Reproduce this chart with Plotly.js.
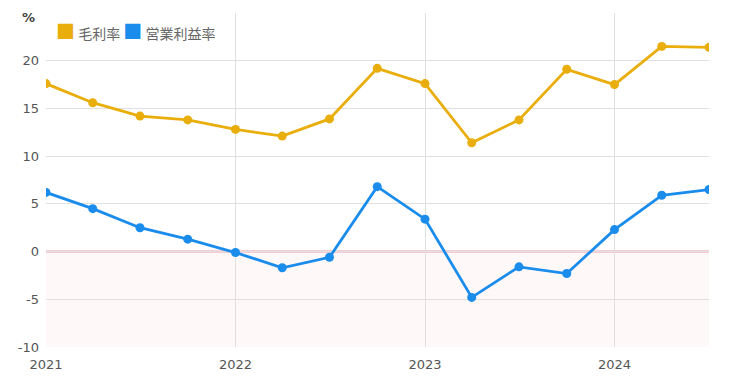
<!DOCTYPE html>
<html><head><meta charset="utf-8">
<script src="https://cdn.plot.ly/plotly-3.0.1.min.js"></script>
<style>html,body{margin:0;padding:0;background:#fff}#c{width:740px;height:383px}</style>
</head><body><div id="c"></div>
<script>
const quarters = ["2021-01-01","2021-04-01","2021-07-01","2021-10-01","2022-01-01","2022-04-01","2022-07-01","2022-10-01","2023-01-01","2023-04-01","2023-07-01","2023-10-01","2024-01-01","2024-04-01","2024-07-01"];
const grossMargin = [17.6,15.6,14.2,13.8,12.8,12.1,13.9,19.2,17.6,11.4,13.8,19.1,17.5,21.5,21.4];
const operatingMargin = [6.2,4.5,2.5,1.3,-0.1,-1.7,-0.6,6.8,3.4,-4.8,-1.6,-2.3,2.3,5.9,6.5];
const seriesNames = ["毛利率","営業利益率"];
const colors = ["#e9ae0b","#1a8cec"];
const yTicks = [-10,-5,0,5,10,15,20,25];
const yTickText = ["-10","-5","0","5","10","15","20",""];
const xTicks = ["2021-01-01","2022-01-01","2023-01-01","2024-01-01"];
const xTickText = ["2021","2022","2023","2024"];

const font = "'DejaVu Sans', 'Noto Sans CJK JP', sans-serif";
const traces = [
  {x:quarters,y:grossMargin,type:'scatter',mode:'lines+markers',name:seriesNames[0],
   line:{color:colors[0],width:2.8},marker:{color:colors[0],size:9}},
  {x:quarters,y:operatingMargin,type:'scatter',mode:'lines+markers',name:seriesNames[1],
   line:{color:colors[1],width:2.8},marker:{color:colors[1],size:9}}
];
const legendText = seriesNames.map((n,i)=>`<span style="color:${colors[i]};font-size:19px">■</span> ${n}`).join(' ');
const layout = {
  width:740,height:383,
  margin:{l:46,r:31,t:13,b:36},
  paper_bgcolor:'#fff',plot_bgcolor:'#fff',
  font:{family:font,size:13,color:'#555'},
  showlegend:false,
  xaxis:{type:'date',range:["2021-01-01","2024-07-01"],tickvals:xTicks,ticktext:xTickText,
    showgrid:true,gridcolor:'#e0e0e0',zeroline:false,showline:false,ticks:'',ticklabelstandoff:8},
  yaxis:{range:[-10,25],tickvals:yTicks,ticktext:yTickText,showgrid:true,gridcolor:'#e0e0e0',
    zeroline:false,ticks:'',ticklabelstandoff:6},
  shapes:[
    {type:'rect',xref:'paper',x0:0,x1:1,yref:'y',y0:-10,y1:0,fillcolor:'#fff8f9',line:{width:0},layer:'below'},
    {type:'line',xref:'paper',x0:0,x1:1,yref:'y',y0:0,y1:0,line:{color:'#ee9cab',width:2},layer:'below'}
  ],
  annotations:[
    {text:'<b>%</b>',xref:'paper',yref:'paper',x:0,y:1,xanchor:'right',yanchor:'middle',
     xshift:-9,yshift:-4,showarrow:false,font:{size:13,color:'#444'}},
    {text:legendText,xref:'paper',yref:'paper',x:0,y:1,xanchor:'left',yanchor:'middle',
     xshift:8,yshift:-17,showarrow:false,font:{family:"'Noto Sans CJK JP', sans-serif",size:14,color:'#666'}}
  ]
};
Plotly.newPlot('c',traces,layout,{displayModeBar:false,staticPlot:true});
</script></body></html>
